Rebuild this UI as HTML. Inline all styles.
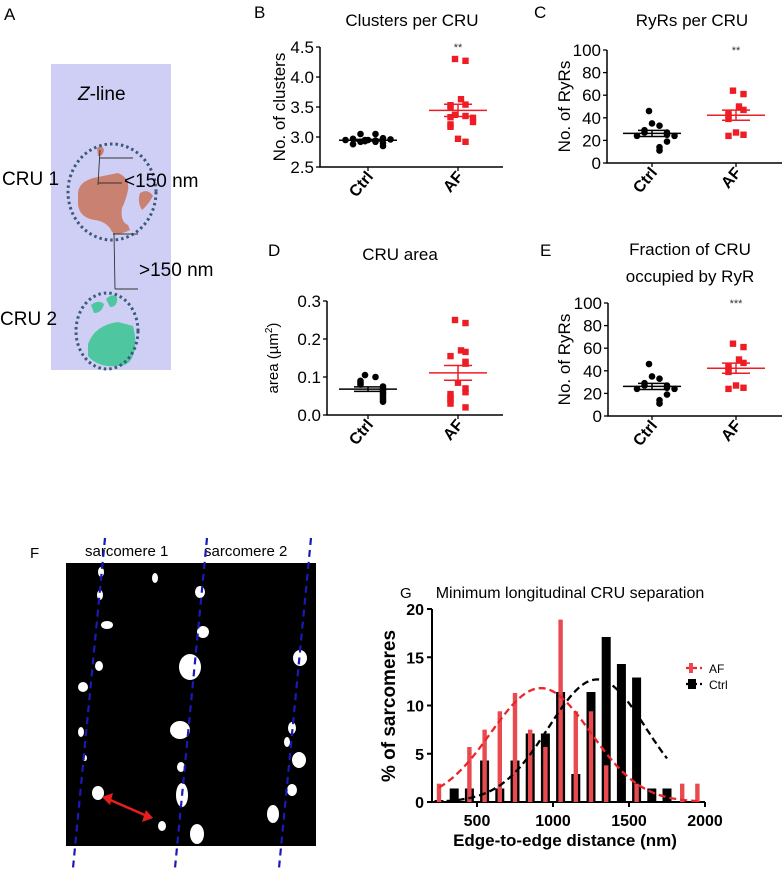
<!DOCTYPE html>
<html><head><meta charset="utf-8">
<style>
body{margin:0;background:#fff;}
svg{display:block;font-family:"Liberation Sans",sans-serif;}
</style></head>
<body>
<svg id="fig" width="782" height="872" viewBox="0 0 782 872" xmlns="http://www.w3.org/2000/svg">
<!-- Panel A -->
<g>
  <text x="4" y="20" font-size="17">A</text>
  <rect x="51" y="64" width="120" height="306" fill="#cfcff5"/>
  <text x="78" y="100" font-size="19"><tspan font-style="italic">Z</tspan>-line</text>
  <path d="M78 192 Q80 180 98 177 L118 173 Q130 178 128 190 Q126 200 122 208 Q120 222 128 225 L130 230 Q118 236 112 232 Q108 222 95 220 Q80 218 78 205 Z" fill="#c98272"/>
  <path d="M97 148 Q102 144 104 150 Q103 157 98 156 Z" fill="#c98272"/>
  <path d="M140 193 Q148 188 153 196 Q148 205 142 210 Q137 202 140 193 Z" fill="#c98272"/>
  <ellipse cx="112" cy="192" rx="44" ry="48" fill="none" stroke="#3b5a7a" stroke-width="3" stroke-dasharray="2.5 3"/>
  <path d="M88 344 Q95 325 118 322 L133 326 Q138 345 132 358 Q128 366 118 366 Q98 368 88 356 Z" fill="#4ec7a0"/>
  <path d="M91 305 Q98 299 104 304 Q102 313 94 313 Z M106 299 Q112 293 117 297 Q118 307 110 307 Z" fill="#4ec7a0"/>
  <ellipse cx="107" cy="331" rx="31" ry="38" fill="none" stroke="#3b5a7a" stroke-width="3" stroke-dasharray="2.5 3"/>
  <g stroke="#333" stroke-width="0.9" fill="none">
    <line x1="100" y1="150" x2="98" y2="185"/><line x1="100" y1="158" x2="133" y2="158"/><line x1="98" y1="183" x2="122" y2="183"/>
    <line x1="114" y1="233" x2="115" y2="289"/><line x1="113" y1="234" x2="138" y2="234"/><line x1="115" y1="289" x2="138" y2="289"/>
  </g>
  <text x="2" y="185" font-size="19">CRU 1</text>
  <text x="124" y="187" font-size="19">&lt;150 nm</text>
  <text x="139" y="276" font-size="19">&gt;150 nm</text>
  <text x="0" y="325" font-size="19">CRU 2</text>
</g>
<g id="scatters"></g>
<!-- Panel F -->
<g>
  <text x="30" y="558" font-size="15">F</text>
  <text x="85" y="556" font-size="15">sarcomere 1</text>
  <text x="204" y="556" font-size="15">sarcomere 2</text>
  <rect x="66" y="563" width="250" height="283" fill="#000"/>
  <g fill="#fff">
    <ellipse cx="101" cy="572" rx="3" ry="5"/><ellipse cx="155" cy="578" rx="3" ry="5"/><ellipse cx="200" cy="592" rx="5" ry="6"/>
    <ellipse cx="100" cy="595" rx="3" ry="5"/><ellipse cx="107" cy="625" rx="6" ry="4"/><ellipse cx="203" cy="632" rx="6" ry="6"/>
    <ellipse cx="190" cy="667" rx="11" ry="13"/><ellipse cx="300" cy="658" rx="7" ry="8"/><ellipse cx="99" cy="666" rx="4" ry="5"/>
    <ellipse cx="83" cy="687" rx="5" ry="5"/><ellipse cx="81" cy="732" rx="3" ry="5"/><ellipse cx="180" cy="730" rx="10" ry="9"/>
    <ellipse cx="292" cy="728" rx="4" ry="6"/><ellipse cx="287" cy="742" rx="3" ry="5"/><ellipse cx="299" cy="760" rx="7" ry="8"/>
    <ellipse cx="181" cy="767" rx="4" ry="5"/><ellipse cx="182" cy="795" rx="6" ry="12"/><ellipse cx="98" cy="793" rx="6" ry="7"/>
    <ellipse cx="292" cy="790" rx="5" ry="6"/><ellipse cx="273" cy="814" rx="6" ry="9"/><ellipse cx="162" cy="826" rx="4" ry="5"/>
    <ellipse cx="197" cy="834" rx="7" ry="10"/><ellipse cx="85" cy="758" rx="2" ry="3"/><ellipse cx="81" cy="688" rx="2" ry="2"/>
  </g>
  <g stroke="#1a1ab8" stroke-width="2.2" stroke-dasharray="7 5">
    <line x1="105" y1="538" x2="73" y2="868"/><line x1="207" y1="538" x2="175" y2="868"/><line x1="311" y1="538" x2="279" y2="868"/>
  </g>
  <g stroke="#e61e1e" stroke-width="2.5" fill="#e61e1e">
    <line x1="108" y1="799" x2="147" y2="816"/>
    <polygon points="102,797 113,793 110,805" stroke="none"/><polygon points="153,818 142,822 146,810" stroke="none"/>
  </g>
</g>
<!-- Panel G -->
<g id="histG">
  <text x="400" y="598" font-size="15">G</text>
  <text x="570" y="598" font-size="16" text-anchor="middle">Minimum longitudinal CRU separation</text>
</g>
</svg>
<script>
const NS='http://www.w3.org/2000/svg';
function mk(parent,tag,attrs,txt){const e=document.createElementNS(NS,tag);for(const k in attrs)e.setAttribute(k,attrs[k]);if(txt!==undefined)e.textContent=txt;parent.appendChild(e);return e;}

// ---------- Scatter data ----------
const groupLabels=['Ctrl','AF'];
const bCtrl=[2.95,3.05,3.05,2.98,2.97,2.96,2.95,2.95,2.94,2.93,2.92,2.92,2.9,2.88,2.85];
const bAF=[4.3,4.27,3.63,3.54,3.53,3.5,3.37,3.35,3.33,3.32,3.25,3.21,3.17,2.97,2.92];
const bTicks=[2.5,3.0,3.5,4.0,4.5];
const cCtrl=[46,35,33,29,27,27,25,24,24,19,14,11];
const cAF=[64,61,50,47,44,42,39,27,25,24];
const cTicks=[0,20,40,60,80,100];
const dCtrl=[0.105,0.1,0.09,0.085,0.08,0.075,0.07,0.065,0.06,0.055,0.05,0.045,0.04,0.035];
const dAF=[0.25,0.242,0.17,0.166,0.155,0.14,0.135,0.085,0.07,0.06,0.055,0.045,0.04,0.03,0.02];
const dTicks=[0.0,0.1,0.2,0.3];
const eCtrl=[46,35,33,29,27,27,25,24,24,19,14,11];
const eAF=[64,61,50,47,44,42,39,27,25,24];
const eTicks=[0,20,40,60,80,100];

function stats(a){const m=a.reduce((s,v)=>s+v,0)/a.length;const sd=Math.sqrt(a.reduce((s,v)=>s+(v-m)*(v-m),0)/(a.length-1));return {m,se:sd/Math.sqrt(a.length)};}

function scatter(o){
  const g=mk(document.getElementById('scatters'),'g',{});
  
  
  const y=v=>o.y0+(v-o.min)/(o.max-o.min)*(o.y1-o.y0);
  const t=mk(g,'text',{x:o.lx,y:o.ly,'font-size':17});t.textContent=o.letter;
  
  
  o.title.forEach((s,i)=>{const tt=mk(g,'text',{x:o.tx,y:o.ty+i*27,'font-size':17,'text-anchor':'middle'},s);
    
    });
  const ax=mk(g,'path',{d:`M${o.ax} ${y(o.max)} V${o.y0} H${o.axEnd}`,stroke:'#000','stroke-width':1.5,fill:'none'});
  
  
  o.ticks.forEach(v=>{mk(g,'line',{x1:o.ax-4,x2:o.ax,y1:y(v),y2:y(v),stroke:'#000','stroke-width':1.3});
    const tl=mk(g,'text',{x:o.ax-6,y:y(v)+6,'font-size':17,'text-anchor':'end'},o.fmt(v));
    
    });
  const yl=mk(g,'text',{transform:`translate(${o.ylx},${(o.y0+y(o.max))/2}) rotate(-90)`,'font-size':o.ylSize||17,'text-anchor':'middle'});
  yl.innerHTML=o.ylab;
  
  
  [o.data[0],o.data[1]].forEach((arr,gi)=>{
    const cx=o.gx[gi];const col=gi?'#ee1c24':'#000';
    mk(g,'line',{x1:cx,x2:cx,y1:o.y0,y2:o.y0+4,stroke:'#000','stroke-width':1.3});
    const gl=mk(g,'text',{transform:`translate(${cx+6},${o.y0+10}) rotate(-50)`,'font-size':16,'font-weight':'bold','text-anchor':'end'},groupLabels[gi]);
    
    
    const placed=[];
    arr.forEach((v,i)=>{
      const py=y(v);
      const k=placed.filter(q=>Math.abs(q-py)<7).length%7;
      placed.push(py);
      const off=k===0?((i%3)-1)*3:(k%2?1:-1)*Math.ceil(k/2)*7.5;
      let p;
      if(gi===0){p=mk(g,'circle',{cx:cx+off,cy:py,r:3.3,fill:col});}
      else{p=mk(g,'rect',{x:cx+off-3.2,y:py-3.2,width:6.4,height:6.4,fill:col});}
      
      
    });
    const s=stats(arr);
    const mg=mk(g,'g',{stroke:col,'stroke-width':1.5});
    
    
    mk(mg,'line',{x1:cx-29,x2:cx+29,y1:y(s.m),y2:y(s.m)});
    mk(mg,'line',{x1:cx,x2:cx,y1:y(s.m-s.se),y2:y(s.m+s.se)});
    mk(mg,'line',{x1:cx-14,x2:cx+14,y1:y(s.m-s.se),y2:y(s.m-s.se)});
    mk(mg,'line',{x1:cx-14,x2:cx+14,y1:y(s.m+s.se),y2:y(s.m+s.se)});
  });
  if(o.sig){const st=mk(g,'text',{x:o.gx[1],y:y(o.max)+4,'font-size':11,'text-anchor':'middle',fill:'#333'},o.sig);
    
    }
}
scatter({name:'panel-b',letter:'B',lx:254,ly:18,title:['Clusters per CRU'],tx:412,ty:26,ax:320,axEnd:503,y0:167,y1:47,min:2.5,max:4.5,ticks:bTicks,fmt:v=>v.toFixed(1),ylab:'No. of clusters',ylx:285,gx:[368,458],data:[bCtrl,bAF],sig:'**'});
scatter({name:'panel-c',letter:'C',lx:534,ly:18,title:['RyRs per CRU'],tx:692,ty:26,ax:607,axEnd:782,y0:163,y1:50,min:0,max:100,ticks:cTicks,fmt:v=>String(v),ylab:'No. of RyRs',ylx:570,gx:[652,736],data:[cCtrl,cAF],sig:'**'});
scatter({name:'panel-d',letter:'D',lx:268,ly:256,title:['CRU area'],tx:400,ty:260,ax:327,axEnd:503,y0:415,y1:301,min:0,max:0.3,ticks:dTicks,fmt:v=>v.toFixed(1),ylab:'area (µm<tspan dy="-6" font-size="10">2</tspan><tspan dy="6">)</tspan>',ylSize:15,ylx:278,gx:[368,458],data:[dCtrl,dAF]});
scatter({name:'panel-e',letter:'E',lx:540,ly:256,title:['Fraction of CRU','occupied by RyR'],tx:690,ty:255,ax:608,axEnd:782,y0:416,y1:303,min:0,max:100,ticks:eTicks,fmt:v=>String(v),ylab:'No. of RyRs',ylx:570,gx:[652,736],data:[eCtrl,eAF],sig:'***'});

// ---------- Histogram G ----------
const binCenters=[250,350,450,550,650,750,850,950,1050,1150,1250,1350,1450,1550,1650,1750,1850,1950];
const ctrlPct=[0.2,1.4,1.4,4.3,1.4,4.3,7.1,7.1,11.4,2.9,11.4,17.1,14.3,12.9,1.4,1.4,0,0];
const afPct=[1.9,0,5.7,7.5,9.4,11.3,7.5,5.7,18.9,9.4,9.4,3.8,0,1.9,0,0,1.9,1.9];
const xTicksG=[500,1000,1500,2000];
const yTicksG=[0,5,10,15,20];
const fitNames=['AF','Ctrl'];
const fitMean=[920,1290];
const fitSD=[330,320];
const fitAmp=[11.8,12.7];
const fitRange=[[250,1950],[300,1750]];
(function(){
  const g=document.getElementById('histG');
  const X=v=>477+(v-500)*0.152;
  const Y=v=>802-v*9.65;
  const ax=mk(g,'path',{d:`M432 ${Y(20)} V802 H${X(2000)}`,stroke:'#000','stroke-width':2,fill:'none'});
  
  
  yTicksG.forEach(v=>{mk(g,'line',{x1:427,x2:432,y1:Y(v),y2:Y(v),stroke:'#000','stroke-width':2});
    const t=mk(g,'text',{x:424,y:Y(v)+6,'font-size':16,'font-weight':'bold','text-anchor':'end'},String(v));
    
    });
  xTicksG.forEach(v=>{mk(g,'line',{x1:X(v),x2:X(v),y1:802,y2:807,stroke:'#000','stroke-width':2});
    const t=mk(g,'text',{x:X(v),y:826,'font-size':16,'font-weight':'bold','text-anchor':'middle'},String(v));
    
    });
  const xt=mk(g,'text',{x:565,y:846,'font-size':17,'font-weight':'bold','text-anchor':'middle'},'Edge-to-edge distance (nm)');
  
  
  const yt=mk(g,'text',{transform:`translate(395,706) rotate(-90)`,'font-size':19,'font-weight':'bold','text-anchor':'middle'},'% of sarcomeres');
  
  
  binCenters.forEach((c,i)=>{if(ctrlPct[i]>0){const r=mk(g,'rect',{x:X(c)-4.5,y:Y(ctrlPct[i]),width:9,height:802-Y(ctrlPct[i]),fill:'#000'});
    
    }});
  binCenters.forEach((c,i)=>{if(afPct[i]>0){const r=mk(g,'rect',{x:X(c)-2.2,y:Y(afPct[i]),width:4.4,height:802-Y(afPct[i]),fill:'#e84a4f'});
    
    }});
  const cols=['#e8262b','#000'];
  fitNames.forEach((n,k)=>{let d='';for(let v=fitRange[k][0];v<=fitRange[k][1];v+=10){const p=fitAmp[k]*Math.exp(-Math.pow(v-fitMean[k],2)/(2*fitSD[k]*fitSD[k]));d+=(d?'L':'M')+X(v).toFixed(1)+' '+Y(p).toFixed(1);}
    const p=mk(g,'path',{d:d,fill:'none',stroke:cols[k],'stroke-width':2.3,'stroke-dasharray':'7 4'});
    
    
    const ly=668+k*16;
    const lg=mk(g,'g',{});
    
    
    mk(lg,'line',{x1:686,x2:702,y1:ly,y2:ly,stroke:cols[k],'stroke-width':2.3,'stroke-dasharray':'4 3'});
    mk(lg,'rect',{x:k?688:689,y:ly-5,width:k?8:4,height:10,fill:k?'#000':'#e84a4f'});
    mk(lg,'text',{x:709,y:ly+5,'font-size':12},n);
  });
})();
</script>
</body></html>
